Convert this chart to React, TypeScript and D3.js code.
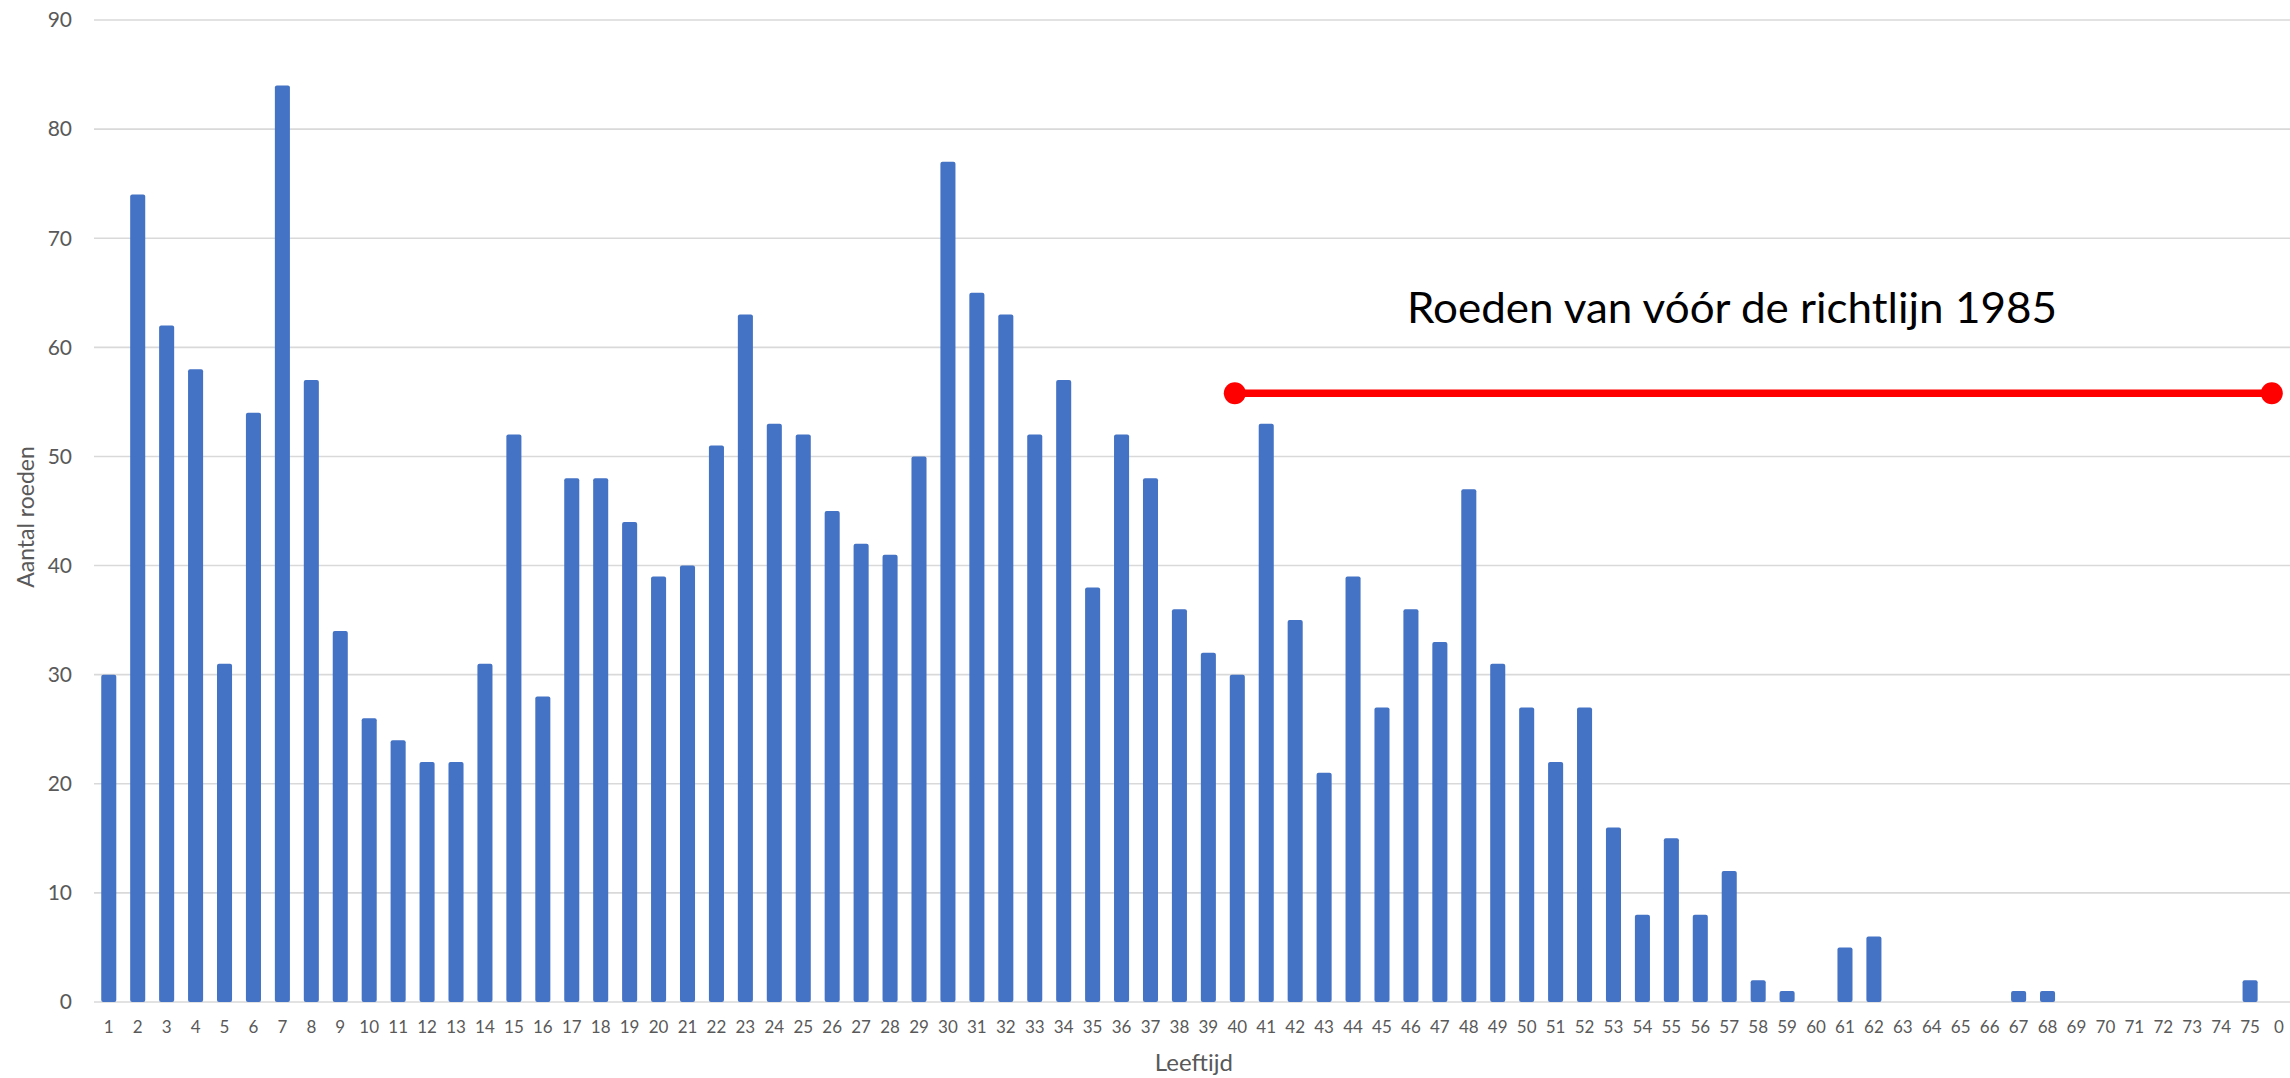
import React, { useEffect, useRef } from 'react';
import * as d3 from 'd3';

// leeftijd categories (last one is "0" in the source sheet)
const ages: string[] = [
  ...d3.range(1, 76).map(String),
  '0',
];

// aantal roeden per leeftijd
const counts: number[] = [
  30, 74, 62, 58, 31, 54, 84, 57, 34, 26,
  24, 22, 22, 31, 52, 28, 48, 48, 44, 39,
  40, 51, 63, 53, 52, 45, 42, 41, 50, 77,
  65, 63, 52, 57, 38, 52, 48, 36, 32, 30,
  53, 35, 21, 39, 27, 36, 33, 47, 31, 27,
  22, 27, 16, 8, 15, 8, 12, 2, 1, 0,
  5, 6, 0, 0, 0, 0, 1, 1, 0, 0,
  0, 0, 0, 0, 2, 0,
];

const yTicks: number[] = d3.range(0, 91, 10);

// annotation: pre-1985 rods
const annotationText = 'Roeden van vóór de richtlijn 1985';
const annotationFrom = '40';
const annotationTo = '0';
const annotationValue = 55.8;

const W = 2290;
const H = 1078;

const App = () => {
  const svgRef = useRef<SVGSVGElement>(null);

  useEffect(() => {
    const svg = d3.select(svgRef.current);
    svg.selectAll('*').remove();

    const font = 'Lato, "Open Sans", "Liberation Sans", sans-serif';
    const grey = '#595959';

    const x = d3.scaleBand<string>()
      .domain(ages)
      .range([94.3, 2293.5])
      .paddingInner(0.48)
      .paddingOuter(0.24);

    const y = d3.scaleLinear().domain([0, 90]).range([1002, 20]);

    const step = x.step();
    const center = (a: string) => (x(a) as number) + x.bandwidth() / 2;

    // gridlines
    svg.append('g')
      .selectAll('line')
      .data(yTicks)
      .join('line')
      .attr('x1', 94)
      .attr('x2', W)
      .attr('y1', d => y(d))
      .attr('y2', d => y(d))
      .attr('stroke', '#d9d9d9')
      .attr('stroke-width', 1.6);

    // y tick labels
    svg.append('g')
      .selectAll('text')
      .data(yTicks)
      .join('text')
      .attr('x', 72)
      .attr('y', d => y(d))
      .attr('dy', '0.35em')
      .attr('text-anchor', 'end')
      .style('font-family', font)
      .style('font-size', '21px')
      .attr('fill', grey)
      .text(d => d);

    // bars
    svg.append('g')
      .selectAll('rect')
      .data(counts)
      .join('rect')
      .attr('x', (d, i) => x(ages[i]) as number)
      .attr('width', x.bandwidth())
      .attr('y', d => y(d))
      .attr('height', d => y(0) - y(d))
      .attr('rx', d => (d > 0 ? 2 : 0))
      .attr('fill', '#4472C4');

    // x tick labels
    svg.append('g')
      .selectAll('text')
      .data(ages)
      .join('text')
      .attr('x', d => center(d))
      .attr('y', 1033)
      .attr('text-anchor', 'middle')
      .style('font-family', font)
      .style('font-size', '17px')
      .attr('fill', grey)
      .text(d => d);

    // axis titles
    svg.append('text')
      .attr('x', (94.3 + 2293.5) / 2)
      .attr('y', 1071)
      .attr('text-anchor', 'middle')
      .style('font-family', font)
      .style('font-size', '24px')
      .attr('fill', grey)
      .text('Leeftijd');

    svg.append('text')
      .attr('transform', `translate(34,${(y(0) + y(90)) / 2 + 6}) rotate(-90)`)
      .attr('text-anchor', 'middle')
      .style('font-family', font)
      .style('font-size', '23px')
      .attr('fill', grey)
      .text('Aantal roeden');

    // red annotation line with end dots
    const ax1 = center(annotationFrom) - 2.5;
    const ax2 = center(annotationTo) - step * 0.25;
    const ay = y(annotationValue);
    const ann = svg.append('g');
    ann.append('line')
      .attr('x1', ax1)
      .attr('x2', ax2)
      .attr('y1', ay)
      .attr('y2', ay)
      .attr('stroke', '#ff0000')
      .attr('stroke-width', 7.5);
    ann.selectAll('circle')
      .data([ax1, ax2])
      .join('circle')
      .attr('cx', d => d)
      .attr('cy', ay)
      .attr('r', 11)
      .attr('fill', '#ff0000');

    ann.append('text')
      .attr('x', center('46') - 4)
      .attr('y', y(62.2))
      .attr('textLength', 650)
      .attr('lengthAdjust', 'spacingAndGlyphs')
      .style('font-family', font)
      .style('font-size', '42px')
      .attr('fill', '#000000')
      .text(annotationText);
  }, []);

  return (
    <svg
      ref={svgRef}
      width={W}
      height={H}
      style={{ position: 'absolute', left: 0, top: 0, background: '#ffffff' }}
    />
  );
};

export default App;
